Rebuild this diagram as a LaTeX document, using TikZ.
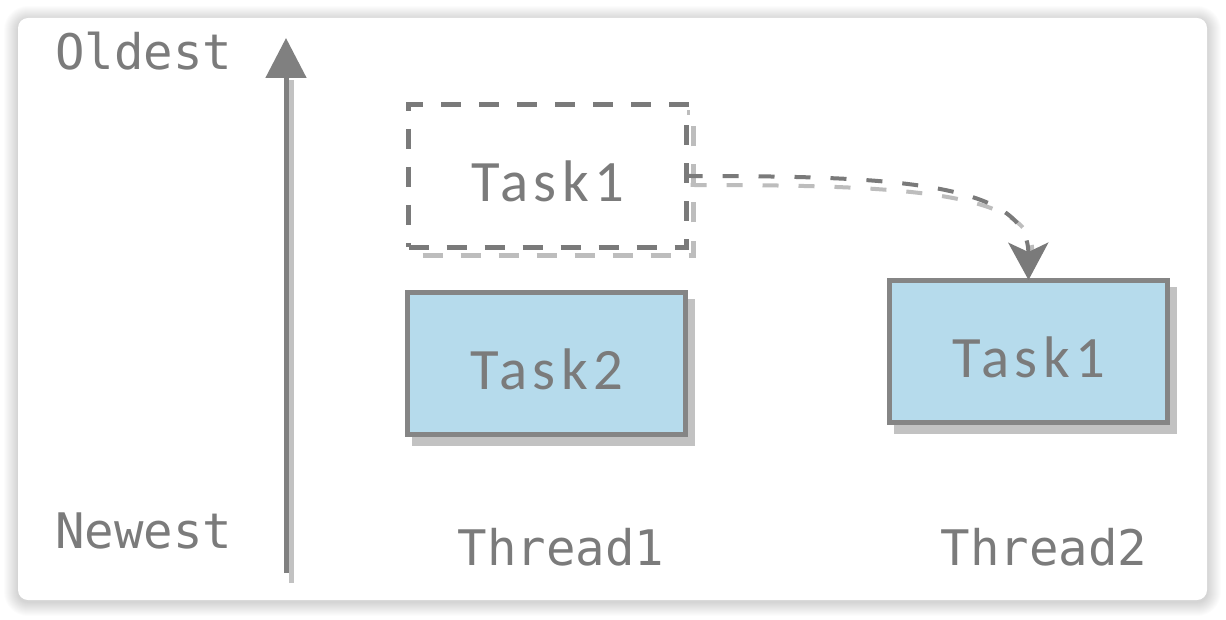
\documentclass[tikz,border=0pt]{standalone}
\usepackage{fontspec}
\usetikzlibrary{arrows.meta}
\newfontfamily\monof{DejaVu Sans Mono}
\newfontfamily\taskf[LetterSpace=9]{Carlito}
\definecolor{edgegray}{HTML}{858585}
\definecolor{arrowgray}{HTML}{808080}
\definecolor{dashgray}{HTML}{7A7A7A}
\definecolor{shadowgray}{HTML}{C2C2C2}
\definecolor{dshadow}{HTML}{BDBDBD}
\definecolor{boxblue}{HTML}{B6DBEC}
\definecolor{txtgray}{HTML}{7B7B7B}
\begin{document}
\begin{tikzpicture}[x=0.75pt,y=-0.75pt,
  lbl/.style={font=\monof\fontsize{36.75}{40}\selectfont, text=txtgray, inner sep=0pt},
  taskbox/.style={draw=edgegray, line width=3.75pt, fill=boxblue, minimum width=208.5pt,
    minimum height=106.5pt, outer sep=0pt, inner sep=0pt,
    font=\taskf\fontsize{44}{48}\selectfont, text=txtgray, text height=39pt, text depth=0pt},
  dashbox/.style={taskbox, draw=dashgray, fill=white, dash pattern=on 15pt off 13.5pt},
  boxshadow/.style={draw=shadowgray, fill=shadowgray, line width=3.75pt},
  dashshadow/.style={draw=dshadow, line width=3.75pt, dash pattern=on 15pt off 13.5pt},
  dconn/.style={dashgray, line width=3pt, dash pattern=on 12pt off 15pt},
  dconnshadow/.style={dshadow, line width=3pt, dash pattern=on 12pt off 15pt}]
\useasboundingbox (0,0) rectangle (1226,620);
\fill[white] (0,0) rectangle (1226,620);
% card shadow
\foreach \i [evaluate=\i as \r using (10+\i)*0.75] in {1,...,14}
  \fill[black, opacity=0.011, rounded corners=\r pt] (18-\i,18-\i+2) rectangle (1207+\i,600+\i+2);
\fill[white, rounded corners=7.5pt] (18,18) rectangle (1207,600);

% labels
\node[lbl, anchor=base west] (old) at (55,70) {Oldest};
\node[lbl, anchor=base west] (new) at (55,548) {Newest};
\node[lbl, anchor=base] (th1) at (561,565) {Thread1};
\node[lbl, anchor=base] (th2) at (1044,565) {Thread2};

% vertical arrow
\coordinate (vb) at (286,573);
\coordinate (vt) at (286,38);
\coordinate (vbs) at (291,583);
\coordinate (vts) at (291,80);
\draw[line width=3.75pt, shadowgray] (vbs) -- (vts);
\draw[line width=3.75pt, arrowgray, -{Triangle[width=30pt,length=30pt]}] (vb) -- (vt);

% box shadows
\coordinate (d0) at (547.5,176);
\coordinate (t20) at (546.5,363.5);
\coordinate (t10) at (1028.5,351);
\draw[dashshadow] ([shift={(-134,-63.5)}]d0) rectangle ([shift={(146,79.5)}]d0);
\draw[boxshadow] ([shift={(-132,-62)}]t20) rectangle ([shift={(146,80)}]t20);
\draw[boxshadow] ([shift={(-132,-62)}]t10) rectangle ([shift={(146,80)}]t10);

% boxes
\node[dashbox] (d) at (d0) {Task1};
\node[taskbox] (t2) at (t20) {Task2};
\node[taskbox] (t1) at (t10) {Task1};

% dashed connector
\draw[dconnshadow, transform canvas={shift={(4,9)}}, shorten >=28pt] (d.east) .. controls (880,176) and (1028,180) .. (t1.north);
\draw[dconn, -{Stealth[width=30pt,length=28pt,inset=7pt]}] (d.east) .. controls (880,176) and (1028,180) .. (t1.north);
\end{tikzpicture}
\end{document}
